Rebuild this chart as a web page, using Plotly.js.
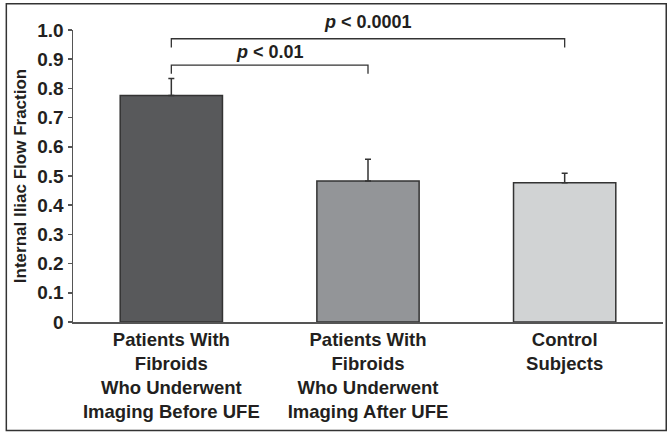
<!DOCTYPE html>
<html>
<head>
<meta charset="utf-8">
<script src="https://cdn.plot.ly/plotly-3.0.1.min.js"></script>
<style>
html,body{margin:0;padding:0;background:#fff;}
#chart{width:667px;height:433px;}
</style>
</head>
<body>
<div id="chart"></div>
<script>
var categories = [
  "Patients With<br>Fibroids<br>Who Underwent<br>Imaging Before UFE",
  "Patients With<br>Fibroids<br>Who Underwent<br>Imaging After UFE",
  "Control<br>Subjects"
];
var values = [0.776, 0.483, 0.477];
var errorsPlus = [0.058, 0.074, 0.032];
var barColors = ["#58595b", "#939598", "#d1d3d4"];
var yTickVals = [0, 0.1, 0.2, 0.3, 0.4, 0.5, 0.6, 0.7, 0.8, 0.9, 1.0];
var yTickText = ["0", "0.1", "0.2", "0.3", "0.4", "0.5", "0.6", "0.7", "0.8", "0.9", "1.0"];
var compFrom = [0, 0];
var compTo = [1, 2];
var compLevel = [0.88, 0.97];
var compDrop = [0.85, 0.94];
var compLabel = ["<i>p</i> < 0.01", "<i>p</i> < 0.0001"];
var compLabelY = [0.926, 1.028];

var FAM = "Liberation Sans, Arial, sans-serif";
var INK = "#231f20";
function f(size) { return {family: FAM, color: INK, size: size, weight: 700}; }

var trace = {
  type: "bar",
  x: [0, 1, 2],
  y: values,
  marker: {color: barColors, line: {color: "#333333", width: 1.5}},
  error_y: {type: "data", symmetric: false, array: errorsPlus, arrayminus: [0, 0, 0],
            color: "#333333", thickness: 1.5, width: 3},
  hoverinfo: "none"
};

var shapes = [];
var annotations = [];
for (var i = 0; i < compFrom.length; i++) {
  shapes.push({type: "path", xref: "x", yref: "y",
    path: "M" + compFrom[i] + "," + compDrop[i] + " L" + compFrom[i] + "," + compLevel[i] +
          " L" + compTo[i] + "," + compLevel[i] + " L" + compTo[i] + "," + compDrop[i],
    line: {color: "#333333", width: 1.3}});
  // y axis range is [0, 1], so paper and data coordinates coincide vertically
  annotations.push({xref: "x", yref: "paper", x: (compFrom[i] + compTo[i]) / 2, y: compLabelY[i],
    text: compLabel[i], showarrow: false, yanchor: "middle", xanchor: "center",
    font: f(18)});
}
// outer frame
shapes.push({type: "rect", xref: "paper", yref: "paper",
  x0: -0.113, x1: 1.0055, y0: -0.372, y1: 1.0895,
  line: {color: "#333333", width: 1.5}, fillcolor: "rgba(0,0,0,0)"});

var layout = {
  width: 667, height: 433,
  margin: {l: 73, r: 4, t: 30, b: 111},
  paper_bgcolor: "#ffffff", plot_bgcolor: "#ffffff",
  font: f(18),
  showlegend: false,
  bargap: 0.48,
  xaxis: {
    range: [-0.5, 2.5], tickvals: [0, 1, 2], ticktext: categories,
    showline: true, linecolor: "#555555", linewidth: 1.5,
    ticks: "", showgrid: false, zeroline: false, tickfont: f(18.5), fixedrange: true
  },
  yaxis: {
    range: [0, 1.0], tickvals: yTickVals, ticktext: yTickText,
    showline: true, linecolor: "#555555", linewidth: 1.5,
    ticks: "outside", ticklen: 4, tickwidth: 1.5, tickcolor: "#555555",
    showgrid: false, zeroline: false, tickfont: f(19),
    title: {text: "Internal Iliac Flow Fraction", font: f(17), standoff: 6},
    fixedrange: true
  },
  shapes: shapes,
  annotations: annotations
};

Plotly.newPlot("chart", [trace], layout, {displayModeBar: false, staticPlot: true});
</script>
</body>
</html>
